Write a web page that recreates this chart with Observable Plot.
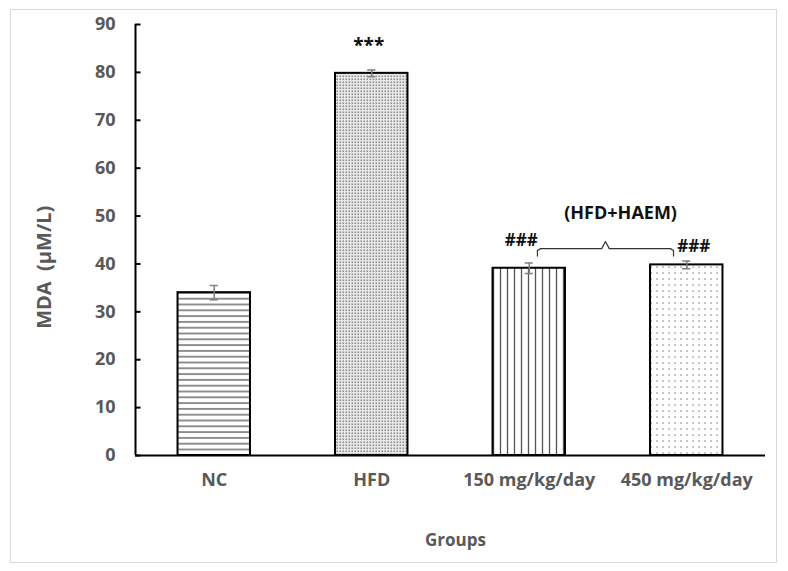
<!DOCTYPE html>
<html><head><meta charset="utf-8">
<script src="https://cdn.jsdelivr.net/npm/d3@7"></script>
<script src="https://cdn.jsdelivr.net/npm/@observablehq/plot@0.6"></script>
<style>
body{margin:0;background:#fff;}
#wrap{position:relative;width:788px;height:571px;}
#border{position:absolute;left:10px;top:9px;width:765px;height:552px;border:1px solid #d9d9d9;pointer-events:none;}
</style>
</head><body>
<div id="wrap"><div id="border"></div></div>
<script>
const groups = ["NC", "HFD", "150 mg/kg/day", "450 mg/kg/day"];
const means = [34.0, 79.8, 39.1, 39.8];
const errors = [1.5, 0.7, 1.1, 0.8];
const patterns = ["url(#pH)", "url(#pFine)", "url(#pV)", "url(#pDots)"];
const yTicks = [0, 10, 20, 30, 40, 50, 60, 70, 80, 90];
const annotGroups = [1, 2, 3];
const annotLabels = ["***", "###", "###"];
const annotY = [85.6, 44.9, 43.6];
const annotDx = [-3, -8, 7];
const bracketX = [2.052, 2.052, 2.072, 2.46, 2.484, 2.508, 2.896, 2.916, 2.916];
const bracketY = [41.65, 42.8, 43.2, 43.2, 44.7, 43.2, 43.2, 42.8, 41.65];
const bracketLabel = "(HFD+HAEM)";
const bracketLabelX = 2.58, bracketLabelY = 50.6;
const yTitle = "MDA  (µM/L)";
const yTitleAt = 39.3;
const xTitle = "Groups";

const data = groups.map((g, i) => ({g, i, v: means[i], e: errors[i], fill: patterns[i]}));
const half = 0.23, cap = 0.026;
const xDom = [-0.5, 3.5];
const font = "'Open Sans', sans-serif";
const gray = "#595959";

const marks = [];
data.forEach(d => {
  marks.push(Plot.rectY([d], {x1: d => d.i - half, x2: d => d.i + half, y1: 0, y2: "v", fill: d.fill, stroke: "black", strokeWidth: 2}));
});
marks.push(
  Plot.ruleX(data, {x: "i", y1: d => d.v - d.e, y2: d => d.v + d.e, stroke: "#7f7f7f", strokeWidth: 1.5}),
  Plot.ruleY(data, {y: d => d.v + d.e, x1: d => d.i - cap, x2: d => d.i + cap, stroke: "#7f7f7f", strokeWidth: 1.5}),
  Plot.ruleY(data, {y: d => d.v - d.e, x1: d => d.i - cap, x2: d => d.i + cap, stroke: "#7f7f7f", strokeWidth: 1.5}),
  Plot.ruleY([0], {stroke: "black", strokeWidth: 2}),
  Plot.ruleX([xDom[0]], {stroke: "black", strokeWidth: 2}),
  Plot.ruleY(yTicks, {y: d => d, x1: xDom[0], x2: xDom[0] + 0.035, stroke: "black", strokeWidth: 2}),
  Plot.text(yTicks, {x: xDom[0], y: d => d, dx: -20, textAnchor: "end", fontSize: 18, fontWeight: "bold", fill: gray}),
  Plot.text(data, {x: "i", text: "g", frameAnchor: "bottom", dy: 30, fontSize: 18, fontWeight: "bold", fill: gray}),
  Plot.line(bracketX.map((x, k) => ({x, y: bracketY[k]})), {x: "x", y: "y", stroke: "#333", strokeWidth: 1.2}),
  Plot.text([bracketLabel], {x: bracketLabelX, y: bracketLabelY, text: d => d, fontSize: 18, fontWeight: "bold", fill: "#111"}),
  Plot.text([yTitle], {x: xDom[0], y: yTitleAt, dx: -91, rotate: -90, text: d => d, fontSize: 20, fontWeight: "bold", fill: gray}),
  Plot.text([xTitle], {frameAnchor: "bottom", dy: 90, dx: 5, text: d => d, fontSize: 17, fontWeight: "bold", fill: gray})
);
annotLabels.forEach((lab, k) => {
  marks.push(Plot.text([lab], {x: annotGroups[k], y: annotY[k], dx: annotDx[k], text: d => d,
    fontSize: k === 0 ? 19 : 17, fontWeight: "bold", fill: "#111"}));
});

const chart = Plot.plot({
  width: 788, height: 571,
  marginLeft: 135, marginRight: 23, marginTop: 24, marginBottom: 116,
  style: {fontFamily: font, background: "transparent"},
  x: {domain: xDom, axis: null},
  y: {domain: [0, 90], axis: null},
  marks
});

const defs = `
<pattern id="pH" patternUnits="userSpaceOnUse" width="8" height="5.8"><rect width="8" height="5.8" fill="white"/><line x1="0" x2="8" y1="2.9" y2="2.9" stroke="#555" stroke-width="1.3"/></pattern>
<pattern id="pFine" patternUnits="userSpaceOnUse" width="3" height="3"><rect width="3" height="3" fill="#e8e8e8"/><rect x="0.5" y="0.5" width="1.5" height="1.5" fill="#8a8a8a"/></pattern>
<pattern id="pV" patternUnits="userSpaceOnUse" width="7" height="8"><rect width="7" height="8" fill="white"/><line y1="0" y2="8" x1="3.5" x2="3.5" stroke="#555" stroke-width="1.3"/></pattern>
<pattern id="pDots" patternUnits="userSpaceOnUse" width="6" height="6"><rect width="6" height="6" fill="white"/><rect x="2.4" y="2.4" width="1.3" height="1.3" fill="#777"/></pattern>`;
d3.select(chart).insert("defs", ":first-child").html(defs);
document.getElementById("wrap").prepend(chart);
</script>
</body></html>
